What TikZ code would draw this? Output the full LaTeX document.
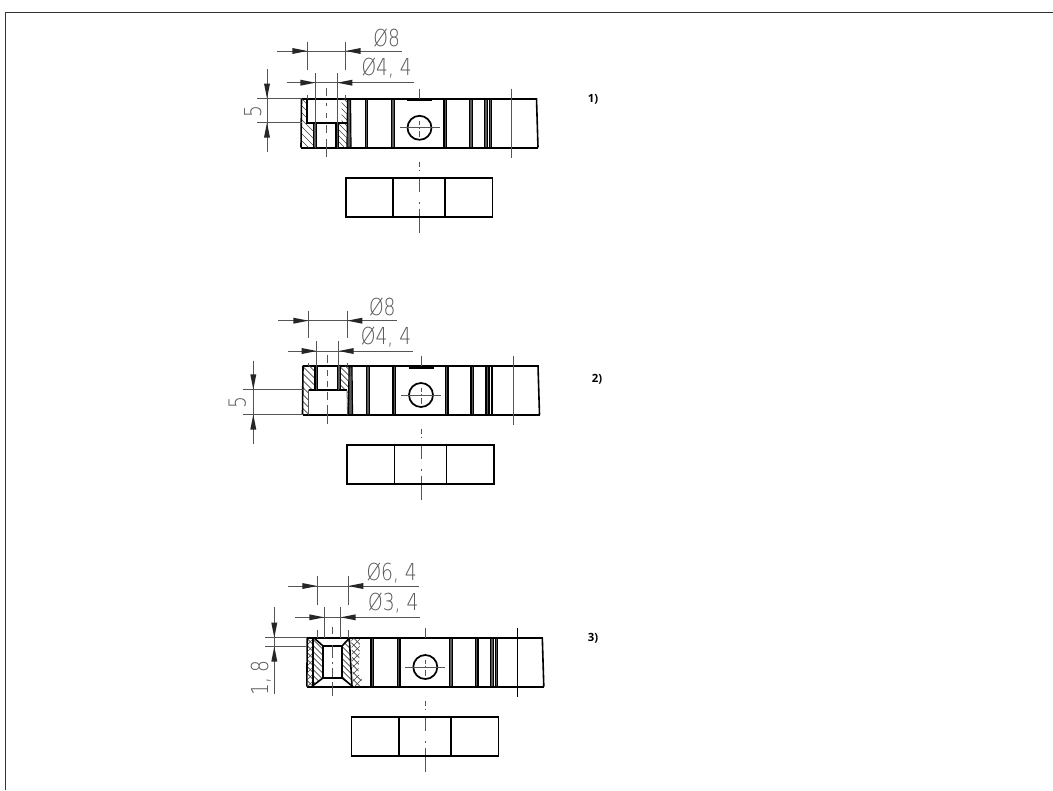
\documentclass[tikz,border=0pt]{standalone}
\usepackage{fontspec}
\usepackage{graphicx}
\setmainfont{Open Sans}
\newfontfamily\isofont{DejaVu Sans ExtraLight}
\definecolor{dimgray}{HTML}{555555}
\definecolor{hatchgray}{HTML}{444444}
\tikzset{
  x=0.75pt,y=-0.75pt,
  outline/.style={line width=1.5pt,black,line cap=butt},
  mid/.style={line width=1.2pt,black},
  band/.style={line width=0.9pt,draw=black,fill=black!65},
  thin/.style={line width=0.6pt,dimgray},
  hatch/.style={line width=0.5pt,hatchgray},
  dimlabel/.style={font=\isofont\fontsize{14}{15}\selectfont,text=dimgray,inner sep=0pt},
  tag/.style={font=\bfseries\fontsize{8.5}{9}\selectfont,inner sep=0pt},
}
\newcommand{\dimtxt}[1]{\scalebox{1}[1.25]{#1}}
% long dimension arrow: tip at (#1,#2), tail 15 px away along direction (#3,#4)
\newcommand{\dimtip}[4]{\fill[black!85] (#1,#2) -- ({#1+#3*15-#4*3},{#2+#4*15+#3*3}) -- ({#1+#3*15+#4*3},{#2+#4*15-#3*3}) -- cycle;}
% the parts that all three drawings share; origin = top left of the body
\newcommand{\sharedbody}[1]{%
  \foreach \bx/\bw in {65/2.6,91.3/2.6,143.7/2.6,169.3/2.6,184.5/3,189/1.6}{
    \filldraw[band] (\bx-\bw/2,1) rectangle (\bx+\bw/2,49);
  }
  \draw[outline] (0,0) -- (235.5,0);
  \draw[mid] (235,0) -- (236.5,49);
  \draw[outline] (-0.5,49) -- (236.5,49);
  \draw[line width=1.3pt] (118,29.3) circle (12);
  \draw[thin] (98,29.3) -- (138,29.3);
  \draw[thin] (118,-10) -- (118,0);
  \draw[thin] (118,22) -- (118,26) (118,28.5) -- (118,30) (118,32) -- (118,38);
  \draw[thin] (118,63) -- (118,68) (118,71) -- (118,72) (118,79.5) -- (118,93)
              (118,103) -- (118,105.5) (118,110) -- (118,134.5);
  \draw[#1] (210,-10) -- (210,59);
  % lower view
  \draw[mid] (44.2,79.5) rectangle (191,118.5);
  \draw[mid] (91.5,79.5) -- (91.5,118.5) (143.5,79.5) -- (143.5,118.5);
}
\begin{document}
\begin{tikzpicture}
\useasboundingbox (0,0) rectangle (1053,790);
\fill[white] (0,0) rectangle (1053,790);
\coordinate (frameTop) at (1053,12.5);
\coordinate (frameCorner) at (5.5,12.5);
\coordinate (frameBottom) at (5.5,790);
\draw[line width=0.9pt,black!80] (frameTop) -- (frameCorner) -- (frameBottom);

%% ---------- 1 ----------
\begin{scope}[shift={(301.5,98.5)}]
  \sharedbody{thin}
  \draw[outline] (105.5,1.8) -- (130.5,1.8);
  \begin{scope}
    \clip (0,0) -- (5.5,0) -- (5.5,24.2) -- (12,24.2) -- (12,49) -- (0,49) -- cycle;
    \foreach \k in {-42,-35,...,20} \draw[hatch] (\k,0) -- (\k+49,49);
  \end{scope}
  \begin{scope}
    \clip (40,24.2) -- (40,0) -- (45.5,0) -- (47,49) -- (36,49) -- (36,24.2) -- cycle;
    \foreach \k in {-12,-6,...,50} \draw[hatch] (\k,0) -- (\k+49,49);
  \end{scope}
  \filldraw[band] (12.2,24.2) rectangle (14.8,49);
  \filldraw[band] (34.4,24.2) rectangle (37,49);
  \filldraw[band] (46,1) -- (49,1) -- (49.5,49) -- (45.5,49) -- cycle;
  \draw[mid] (0,0) -- (-0.5,49);
  \draw[outline] (5.5,0) -- (5.5,24.2) -- (45.2,24.2);
  \draw[thin] (13.8,-25.5) -- (13.8,49) (35.8,-25.5) -- (35.8,49);
\end{scope}
\draw[thin] (277,51) -- (402,51);
\draw[thin] (307.3,41.7) -- (307.3,70) (345.7,41.7) -- (345.7,70);
\dimtip{307.3}{51}{-1}{0} \dimtip{345.7}{51}{1}{0}
\draw[thin] (286.7,82.7) -- (414,82.7);
\dimtip{315.3}{82.7}{-1}{0} \dimtip{337.3}{82.7}{1}{0}
\draw[thin] (307.3,95) -- (307.3,98.5) (345.7,95) -- (345.7,98.5);
\draw[thin] (326.5,88) -- (326.5,96) (326.5,103) -- (326.5,106) (326.5,113) -- (326.5,118)
  (326.5,125) -- (326.5,133) (326.5,139) -- (326.5,157);
\draw[thin] (267,69) -- (267,152);
\draw[thin] (257,98.5) -- (302,98.5) (257,122.7) -- (302,122.7);
\dimtip{267}{98.5}{0}{-1} \dimtip{267}{122.7}{0}{1}
\node[dimlabel] (d1a) at (386.7,37.7) {\dimtxt{Ø8}};
\node[dimlabel] (d1b) at (386.7,68.3) {\dimtxt{Ø4, 4}};
\node[dimlabel,rotate=90] (d1c) at (252.7,112) {\dimtxt{5}};
\node[tag] (t1) at (593,99) {1)};

%% ---------- 2 ----------
\begin{scope}[shift={(303,365.7)}]
  \sharedbody{thin}
  \draw[outline] (105.5,1.8) -- (130.5,1.8);
  \begin{scope}
    \clip (0,0) -- (12,0) -- (12,24) -- (5.5,24) -- (5.5,49) -- (0,49) -- cycle;
    \foreach \k in {-50,-43,...,20} \draw[hatch] (\k,0) -- (\k+49,49);
  \end{scope}
  \begin{scope}
    \clip (36,0) -- (45.5,0) -- (47,49) -- (44,49) -- (44,24) -- (36,24) -- cycle;
    \foreach \k in {-12,-6,...,50} \draw[hatch] (\k,0) -- (\k+49,49);
  \end{scope}
  \filldraw[band] (11.9,0) rectangle (14.5,24);
  \filldraw[band] (34.5,0) rectangle (37.1,24);
  \filldraw[band] (46,1) -- (49,1) -- (49.5,49) -- (45.5,49) -- cycle;
  \draw[mid] (0,0) -- (-0.5,49);
  \draw[outline] (5.5,24) -- (44,24);
  \draw[thin] (5.5,24) -- (5.5,49) (44,24) -- (44.5,49);
  \draw[thin] (13.7,-24.7) -- (13.7,24) (35.7,-24.7) -- (35.7,24);
\end{scope}
\draw[thin] (278,320.7) -- (397,320.7);
\draw[thin] (308.3,310.7) -- (308.3,338.3) (347.3,310.7) -- (347.3,338.3);
\dimtip{308.3}{320.7}{-1}{0} \dimtip{347.3}{320.7}{1}{0}
\draw[thin] (287.7,351) -- (413.3,351);
\dimtip{316.7}{351}{-1}{0} \dimtip{338.7}{351}{1}{0}
\draw[thin] (308.3,363) -- (308.3,365.7) (347.3,363) -- (347.3,365.7);
\draw[thin] (327.7,355) -- (327.7,363) (327.7,370) -- (327.7,376) (327.7,381) -- (327.7,387)
  (327.7,392) -- (327.7,400) (327.7,405) -- (327.7,424);
\draw[thin] (253.3,360.7) -- (253.3,444.3);
\draw[thin] (243.3,389.3) -- (303,389.3) (243.3,414.7) -- (303,414.7);
\dimtip{253.3}{389.3}{0}{-1} \dimtip{253.3}{414.7}{0}{1}
\node[dimlabel] (d2a) at (382.3,306.7) {\dimtxt{Ø8}};
\node[dimlabel] (d2b) at (386,337.3) {\dimtxt{Ø4, 4}};
\node[dimlabel,rotate=90] (d2c) at (237.3,402.3) {\dimtxt{5}};
\node[tag] (t2) at (597,379) {2)};

%% ---------- 3 ----------
\begin{scope}[shift={(307.3,637.7)}]
  \sharedbody{mid}
  \begin{scope}
    \clip (6,0.5) -- (7,0.5) -- (16,8.5) -- (16,40) -- (5.5,48) -- cycle;
    \foreach \k in {-50,-44,...,20} \draw[hatch] (\k,0) -- (\k+49,49);
  \end{scope}
  \begin{scope}
    \clip (34.5,8.5) -- (42,0.5) -- (44.5,48) -- (44,48) -- (34.5,40) -- cycle;
    \foreach \k in {-16,-10,...,50} \draw[hatch] (\k,0) -- (\k+49,49);
  \end{scope}
  \begin{scope}
    \clip (0,0) -- (5,0) -- (5,49) -- (0,49) -- cycle;
    \foreach \k in {-50,-43,...,10} \draw[hatch] (\k,0) -- (\k+49,49);
    \foreach \k in {0,7,...,60} \draw[hatch] (\k,0) -- (\k-49,49);
  \end{scope}
  \begin{scope}
    \clip (44,1) -- (53,1) -- (52,20) -- (51,36) -- (54.5,41) -- (53,49) -- (46,49) -- cycle;
    \foreach \k in {-10,-3,...,60} \draw[hatch] (\k,0) -- (\k+49,49);
    \foreach \k in {40,47,...,110} \draw[hatch] (\k,0) -- (\k-49,49);
  \end{scope}
  \draw[mid] (0,0) -- (-0.5,49);
  \draw[outline] (5.3,0) -- (5.3,49);
  \draw[outline] (16,8.5) rectangle (34.5,40);
  \draw[mid] (7,0.5) -- (16,8.5) (42,0.5) -- (34.5,8.5);
  \draw[mid] (5.5,48) -- (16,40) (44.5,48) -- (34.5,40);
  \draw[mid] (42,0.5) -- (44.7,48.5);
  \draw[thin] (17,-30.5) -- (17,0) (33.4,-30.5) -- (33.4,0);
\end{scope}
\draw[thin] (287.7,586) -- (419,586);
\draw[thin] (317.3,576) -- (317.3,605) (348.3,576) -- (348.3,605);
\dimtip{317.3}{586}{-1}{0} \dimtip{348.3}{586}{1}{0}
\draw[thin] (295,617.3) -- (420.3,617.3);
\dimtip{324.3}{617.3}{-1}{0} \dimtip{340.7}{617.3}{1}{0}
\draw[thin] (317.3,630) -- (317.3,637.7) (348.3,630) -- (348.3,637.7);
\draw[thin] (332.3,627) -- (332.3,634) (332.3,645) -- (332.3,658) (332.3,662) -- (332.3,664)
  (332.3,668) -- (332.3,677) (332.3,682) -- (332.3,696);
\draw[thin] (274.3,607) -- (274.3,694);
\draw[thin] (265,637.7) -- (307.3,637.7) (265,646.7) -- (307.3,646.7);
\dimtip{274.3}{637.7}{0}{-1} \dimtip{274.3}{646.7}{0}{1}
\node[dimlabel] (d3a) at (391.7,572.7) {\dimtxt{Ø6, 4}};
\node[dimlabel] (d3b) at (393.3,603.3) {\dimtxt{Ø3, 4}};
\node[dimlabel,rotate=90] (d3c) at (260.7,678) {\dimtxt{1, 8}};
\node[tag] (t3) at (593,638) {3)};
\end{tikzpicture}
\end{document}
